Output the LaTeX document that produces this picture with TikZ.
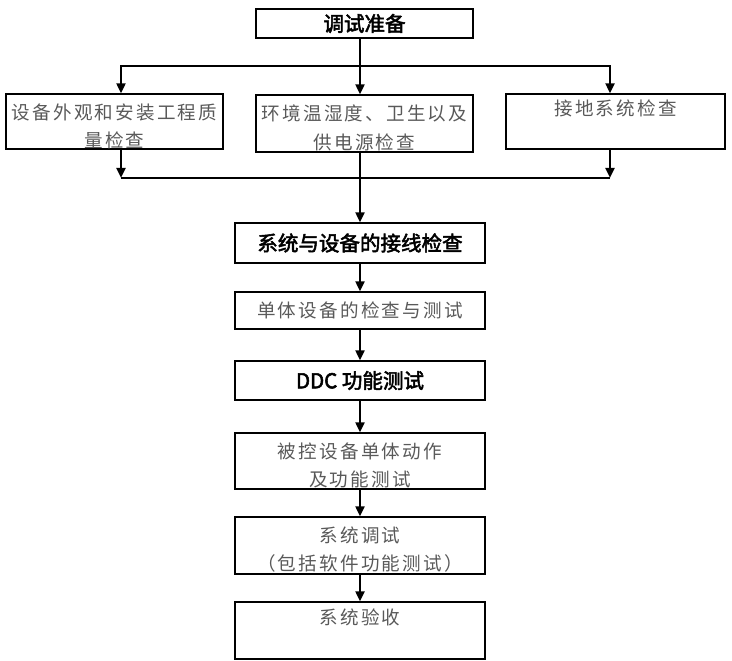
\documentclass[tikz,border=0pt]{standalone}
\usepackage{fontspec}
\usetikzlibrary{arrows.meta}
\newfontfamily\cjkheavy{Noto Sans CJK SC}[FakeBold=2.5]
\newfontfamily\cjkspaced{Noto Sans CJK SC}[LetterSpace=12]
\newcommand\lowstrut{\rule{0pt}{17.5pt}}

\tikzset{
  boldbox/.style={draw, line width=0.9pt, minimum width=6.25cm, inner sep=0pt,
    font=\cjkheavy\fontsize{14.6}{18}\selectfont},
  thinbox/.style={draw, line width=0.9pt, minimum width=6.25cm, inner sep=0pt, align=center,
    text=black!65, font=\cjkspaced\fontsize{13.2}{20}\selectfont},
  flow/.style={line width=2.1pt, -{Triangle[length=0.25cm,width=0.22cm]}},
  bus/.style={line width=2.1pt}
}

\begin{document}
\begin{tikzpicture}
    \useasboundingbox (0,0) rectangle (18.3,16.5);

    % Nodes (Boxes)
    \node[boldbox, minimum width=5.425cm, minimum height=0.725cm] (prep) at (9.1125,15.9125) {调试准备};

    \node[thinbox, minimum width=5.425cm, minimum height=1.375cm] (look) at (2.8625,13.4625) {设备外观和安装工程质\lowstrut\\量检查};
    \node[thinbox, minimum width=5.425cm, minimum height=1.425cm] (env) at (9.1125,13.4125) {环境温湿度、卫生以及\lowstrut\\供电源检查};
    \node[thinbox, minimum width=5.475cm, minimum height=1.375cm] (ground) at (15.3875,13.4625) {接地系统检查\\\mbox{}};

    \node[boldbox, minimum height=1cm] (wiring) at (9,10.425) {系统与设备的接线检查};
    \node[thinbox, minimum height=0.925cm] (single) at (9,8.7375) {单体设备的检查与测试};
    \node[boldbox, minimum height=0.975cm] (ddc) at (9,6.9875) {DDC 功能测试};
    \node[thinbox, minimum height=1.4cm] (action) at (9,4.975) {被控设备单体动作\lowstrut\\及功能测试};
    \node[thinbox, minimum height=1.425cm] (systest) at (9,2.8625) {系统调试\lowstrut\\（包括软件功能测试）};
    \node[thinbox, minimum height=1.425cm] (accept) at (9,0.7375) {系统验收\\\mbox{}};

    % Split and join points
    \coordinate (trunk) at (9,14.85);
    \coordinate (splitL) at (3.025,14.85);
    \coordinate (splitR) at (15.25,14.85);
    \coordinate (joinL) at (3.025,12.05);
    \coordinate (joinR) at (15.25,12.05);

    % Edges
    \draw[flow] (prep.south -| trunk) -- (env.north -| trunk);
    \draw[flow] (splitR) -- (splitL) -- (look.north -| splitL);
    \draw[flow] (splitL) -- (splitR) -- (ground.north -| splitR);

    \draw[flow] (look.south -| joinL) -- (joinL);
    \draw[flow] (ground.south -| joinR) -- (joinR);
    \draw[bus] (joinL) -- (joinR);
    \draw[flow] (env.south -| trunk) -- (wiring.north);

    \draw[flow] (wiring) -- (single);
    \draw[flow] (single) -- (ddc);
    \draw[flow] (ddc) -- (action);
    \draw[flow] (action) -- (systest);
    \draw[flow] (systest) -- (accept);
\end{tikzpicture}
\end{document}
